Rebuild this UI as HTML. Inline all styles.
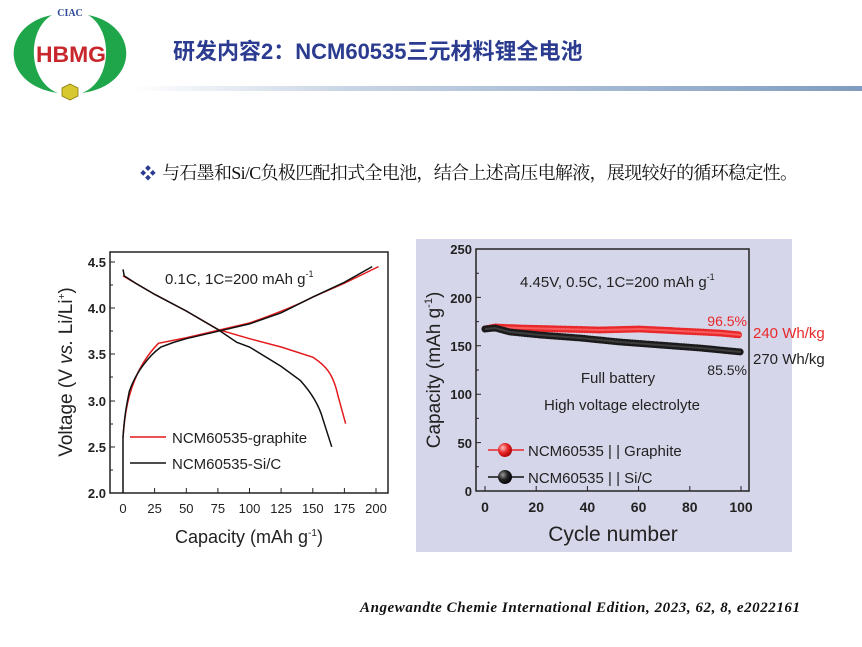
<!DOCTYPE html>
<html><head><meta charset="utf-8"><style>
body{margin:0;background:#fff;}
.w{position:relative;width:862px;height:647px;overflow:hidden;background:#fff;font-family:"Liberation Sans","Noto Sans CJK SC",sans-serif;}
</style></head><body><div class="w">
<svg width="862" height="647" viewBox="0 0 862 647" xmlns="http://www.w3.org/2000/svg" font-family="Liberation Sans, Noto Sans CJK SC, sans-serif">
<defs>
<linearGradient id="hl" x1="0" x2="1"><stop offset="0" stop-color="#ffffff"/><stop offset="0.3" stop-color="#c8d4e4"/><stop offset="1" stop-color="#7f9cc0"/></linearGradient>
<radialGradient id="rb" cx="0.35" cy="0.35" r="0.7"><stop offset="0" stop-color="#ffc0c0"/><stop offset="0.5" stop-color="#e8282a"/><stop offset="1" stop-color="#a00"/></radialGradient>
<radialGradient id="bb" cx="0.35" cy="0.35" r="0.7"><stop offset="0" stop-color="#999"/><stop offset="0.5" stop-color="#222"/><stop offset="1" stop-color="#000"/></radialGradient>
</defs>
<!-- logo -->
<path d="M52,15 C0,25 0,85 58,93 C28,82 26,30 52,15Z" fill="#1fa64a"/>
<path d="M88,15 C140,25 140,85 82,93 C112,82 114,30 88,15Z" fill="#1fa64a"/>
<text x="70" y="16" font-family="Liberation Serif, serif" font-weight="bold" font-size="10" fill="#2e4a9a" text-anchor="middle">CIAC</text>
<text x="71" y="62" font-size="22" font-weight="bold" fill="#c8282d" text-anchor="middle" textLength="70" lengthAdjust="spacingAndGlyphs">HBMG</text>
<polygon points="70,84 78,88 78,96 70,100 62,96 62,88" fill="#d8c830" stroke="#8a7a10" stroke-width="0.8"/>
<!-- title -->
<text x="173" y="59" font-weight="bold" font-size="22" fill="#2b3b8f">研发内容2：NCM60535三元材料锂全电池</text>
<rect x="130" y="86" width="732" height="5" fill="url(#hl)"/>
<!-- bullet -->
<text x="140" y="179" font-size="16" fill="#2b3b8f">❖</text>
<text x="162" y="179" font-size="18" fill="#111" font-family="Liberation Serif, Noto Serif CJK SC, serif" textLength="636">与石墨和Si/C负极匹配扣式全电池，结合上述高压电解液，展现较好的循环稳定性。</text>

<!-- LEFT CHART -->
<rect x="110" y="252" width="278" height="241" fill="none" stroke="#222" stroke-width="1.5"/>
<g font-size="13" font-weight="bold" fill="#222" text-anchor="end">
<text x="106" y="267">4.5</text><text x="106" y="313">4.0</text><text x="106" y="359">3.5</text><text x="106" y="406">3.0</text><text x="106" y="452">2.5</text><text x="106" y="498">2.0</text>
</g>
<g stroke="#222" stroke-width="1">
<path d="M110,262h5M110,308h5M110,354h5M110,401h5M110,447h5M110,285h3M110,331h3M110,377h3M110,424h3M110,470h3"/>
<path d="M123,493v-5M154.6,493v-5M186.3,493v-5M217.9,493v-5M249.5,493v-5M281.1,493v-5M312.8,493v-5M344.4,493v-5M376,493v-5"/>
</g>
<g font-size="13" fill="#222" text-anchor="middle">
<text x="123" y="513">0</text><text x="154.6" y="513">25</text><text x="186.3" y="513">50</text><text x="217.9" y="513">75</text><text x="249.5" y="513">100</text><text x="281.1" y="513">125</text><text x="312.8" y="513">150</text><text x="344.4" y="513">175</text><text x="376" y="513">200</text>
</g>
<text x="249" y="543" font-size="18" fill="#222" text-anchor="middle">Capacity (mAh g<tspan font-size="10" dy="-7">-1</tspan><tspan dy="7">)</tspan></text>
<text transform="translate(72,372) rotate(-90)" font-size="19" fill="#222" text-anchor="middle">Voltage (V <tspan font-style="italic">vs.</tspan> Li/Li<tspan font-size="10" dy="-7">+</tspan><tspan dy="7">)</tspan></text>
<text x="165" y="284" font-size="15" fill="#222">0.1C, 1C=200 mAh g<tspan font-size="9" dy="-7">-1</tspan></text>
<g transform="translate(123,493) scale(1.265,-92.4) translate(0,-2)" fill="none">
<path vector-effect="non-scaling-stroke" stroke="#e31a1c" stroke-width="1.5" d="M0,2.6 C1,2.8 3,2.95 5,3.05 C10,3.3 18,3.48 28,3.62 L50,3.68 L75,3.76 L100,3.84 C125,3.96 140,4.05 150,4.12 L175,4.27 L202,4.45"/>
<path vector-effect="non-scaling-stroke" stroke="#e31a1c" stroke-width="1.5" d="M0,4.35 L10,4.27 L25,4.15 L50,3.97 L75,3.77 L100,3.67 L125,3.58 L150,3.47 C160,3.38 166,3.3 170,3.05 L176,2.75"/>
<path vector-effect="non-scaling-stroke" stroke="#111" stroke-width="1.5" d="M0,2 L0,2.6 C1,2.8 2,2.9 5,3.1 C10,3.3 20,3.48 30,3.58 L40,3.63 L50,3.67 L75,3.75 L100,3.83 L125,3.95 L150,4.12 L175,4.28 L197,4.45"/>
<path vector-effect="non-scaling-stroke" stroke="#111" stroke-width="1.5" d="M0,4.42 L1,4.35 L10,4.27 L25,4.15 L50,3.97 L75,3.77 L90,3.63 L100,3.58 L125,3.37 L140,3.22 C148,3.1 155,2.95 158,2.8 L165,2.5"/>
</g>
<line x1="130" y1="437" x2="166" y2="437" stroke="#e31a1c" stroke-width="1.5"/>
<line x1="130" y1="463" x2="166" y2="463" stroke="#111" stroke-width="1.5"/>
<text x="172" y="443" font-size="15" fill="#222">NCM60535-graphite</text>
<text x="172" y="469" font-size="15" fill="#222">NCM60535-Si/C</text>

<!-- RIGHT CHART -->
<rect x="416" y="239" width="376" height="313" fill="#d6d6ea"/>
<rect x="476" y="249" width="273" height="242" fill="none" stroke="#222" stroke-width="1.5"/>
<g font-size="13" font-weight="bold" fill="#222" text-anchor="end">
<text x="472" y="254">250</text><text x="472" y="303">200</text><text x="472" y="351">150</text><text x="472" y="399">100</text><text x="472" y="448">50</text><text x="472" y="496">0</text>
</g>
<g stroke="#222" stroke-width="1">
<path d="M476,249h5M476,297.4h5M476,345.8h5M476,394.2h5M476,442.6h5M476,273.2h3M476,321.6h3M476,370h3M476,418.4h3M476,466.8h3"/>
<path d="M485,491v-5M536.2,491v-5M587.4,491v-5M638.6,491v-5M689.8,491v-5M741,491v-5"/>
</g>
<g font-size="14" font-weight="bold" fill="#222" text-anchor="middle">
<text x="485" y="512">0</text><text x="536.2" y="512">20</text><text x="587.4" y="512">40</text><text x="638.6" y="512">60</text><text x="689.8" y="512">80</text><text x="741" y="512">100</text>
</g>
<text x="613" y="541" font-size="21" fill="#222" text-anchor="middle">Cycle number</text>
<text transform="translate(440,370) rotate(-90)" font-size="19" fill="#222" text-anchor="middle">Capacity (mAh g<tspan font-size="11" dy="-8">-1</tspan><tspan dy="8">)</tspan></text>
<text x="520" y="287" font-size="15" fill="#222">4.45V, 0.5C, 1C=200 mAh g<tspan font-size="9" dy="-7">-1</tspan></text>
<polyline points="485,329 495,327 520,328 560,329 600,330 640,329 680,331 720,333 741,335" fill="none" stroke="#e8282a" stroke-width="7" stroke-dasharray="0.1 2.6" stroke-linecap="round"/>
<polyline points="485,329 495,327 520,328 560,329 600,330 640,329 680,331 720,333 741,335" fill="none" stroke="#ff7070" stroke-width="2" opacity="0.7"/>
<polyline points="485,329 495,328 510,332 540,335 580,338 620,342 660,345 700,348 741,352" fill="none" stroke="#1a1a1a" stroke-width="7" stroke-dasharray="0.1 2.6" stroke-linecap="round"/>
<polyline points="485,329 495,328 510,332 540,335 580,338 620,342 660,345 700,348 741,352" fill="none" stroke="#555" stroke-width="2" opacity="0.6"/>
<text x="747" y="326" font-size="14" fill="#e8282a" text-anchor="end">96.5%</text>
<text x="747" y="375" font-size="14" fill="#222" text-anchor="end">85.5%</text>
<text x="753" y="338" font-size="15" fill="#e8282a">240 Wh/kg</text>
<text x="753" y="364" font-size="15" fill="#222">270 Wh/kg</text>
<text x="618" y="383" font-size="15" fill="#222" text-anchor="middle">Full battery</text>
<text x="622" y="410" font-size="15" fill="#222" text-anchor="middle">High voltage electrolyte</text>
<line x1="488" y1="450" x2="524" y2="450" stroke="#e8282a" stroke-width="1.5"/>
<circle cx="505" cy="450" r="7" fill="url(#rb)"/>
<line x1="488" y1="477" x2="524" y2="477" stroke="#111" stroke-width="1.5"/>
<circle cx="505" cy="477" r="7" fill="url(#bb)"/>
<text x="528" y="456" font-size="15" fill="#222">NCM60535 | | Graphite</text>
<text x="528" y="483" font-size="15" fill="#222">NCM60535 | | Si/C</text>

<text x="360" y="612" font-family="Liberation Serif, serif" font-style="italic" font-weight="bold" font-size="15" fill="#111" textLength="440">Angewandte Chemie International Edition, 2023, 62, 8, e2022161</text>
</svg>
</div></body></html>
